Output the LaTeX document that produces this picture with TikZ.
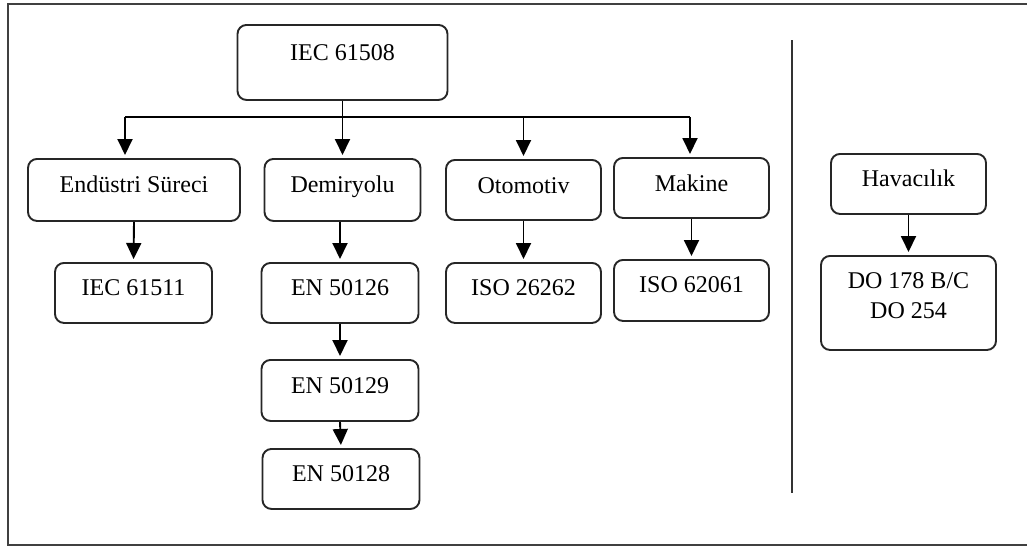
\documentclass[tikz,border=0pt]{standalone}
\usepackage{fontspec}
\setmainfont{Liberation Serif}
\usetikzlibrary{arrows.meta}
\begin{document}
\begin{tikzpicture}[x=1pt,y=-1pt,
  font=\fontsize{24}{30}\selectfont,
  box/.style={draw=black!85, line width=1.9pt, rounded corners=9pt, inner sep=0pt, anchor=north, align=center},
  conn/.style={line width=1.9pt, black},
  arr/.style={conn, -{Triangle[width=15pt,length=16pt]}, shorten >=3pt},
  frameline/.style={line width=1.9pt, black!75},
  sepline/.style={line width=1.7pt, black!80}]
\useasboundingbox (0,0) rectangle (1027,546);
\fill[white] (0,0) rectangle (1027,546);
\draw[frameline] (1040,4) -- (8,4) -- (8,545) -- (1040,545);

\node[box, minimum width=210pt, text height=36pt, text depth=39pt] (iec) at (342.5,24) {IEC 61508};
\node[box, minimum width=212pt, text height=34pt, text depth=28pt] (endu) at (134,158) {Endüstri Süreci};
\node[box, minimum width=156pt, text height=34pt, text depth=28pt] (demir) at (342.5,158) {Demiryolu};
\node[box, minimum width=155pt, text height=34pt, text depth=26pt] (oto) at (523.5,159) {Otomotiv};
\node[box, minimum width=155pt, text height=34pt, text depth=26pt] (mak) at (691.5,157) {Makine};
\node[box, minimum width=155pt, text height=33pt, text depth=27pt] (hav) at (908.5,153) {Havacılık};

\node[box, minimum width=157pt, text height=33pt, text depth=27pt] (iec2) at (133.5,262) {IEC 61511};
\node[box, minimum width=157pt, text height=33pt, text depth=27pt] (en6) at (340,262) {EN 50126};
\node[box, minimum width=157pt, text height=34pt, text depth=27pt] (en9) at (340,359) {EN 50129};
\node[box, minimum width=157pt, text height=33pt, text depth=27pt] (en8) at (341,448) {EN 50128};
\node[box, minimum width=155pt, text height=33pt, text depth=27pt] (iso26) at (523.5,262) {ISO 26262};
\node[box, minimum width=155pt, text height=33pt, text depth=28pt] (iso62) at (691.5,259) {ISO 62061};
\node[box, minimum width=175pt, text height=63pt, text depth=31pt] (do) at (908.5,255) {DO 178 B/C\\DO 254};

\coordinate (bl) at (125,117);
\coordinate (br) at (690,117);
\draw[conn] (bl) -- (br);
\draw[arr] (iec.south) -- (demir.north);
\draw[arr] (bl) -- (bl |- endu.north);
\draw[arr] (oto.north |- bl) -- (oto.north);
\draw[arr] (br) -- (br |- mak.north);

\draw[arr] (endu.south) -- (iec2.north);
\draw[arr] (en6.north |- demir.south) -- (en6.north);
\draw[arr] (en6.south) -- (en9.north);
\draw[arr] (en9.south) -- (en8.north);
\draw[arr] (oto.south) -- (iso26.north);
\draw[arr] (mak.south) -- (iso62.north);
\draw[arr] (hav.south) -- (do.north);

\coordinate (s1) at (792,40);
\coordinate (s2) at (792,493);
\draw[sepline] (s1) -- (s2);
\end{tikzpicture}
\end{document}
